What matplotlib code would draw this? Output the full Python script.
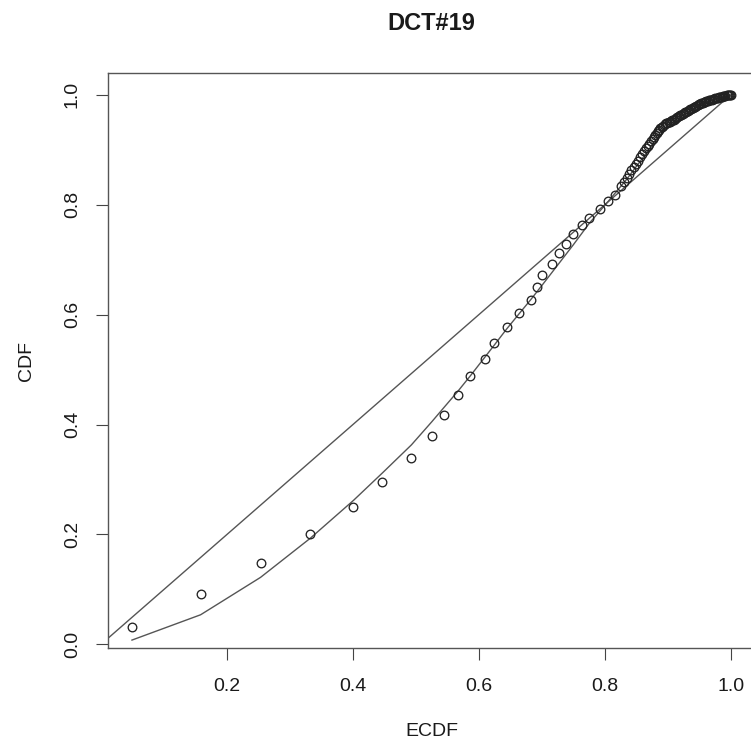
import matplotlib
matplotlib.use("Agg")
import matplotlib.pyplot as plt

# ---- data ----
ecdf_x = [0.0493, 0.1582, 0.2533, 0.3321, 0.4008, 0.4468, 0.4928, 0.5251, 0.5452,
          0.5669, 0.5859, 0.6097, 0.6240, 0.6441, 0.6641, 0.6821, 0.6927, 0.7006,
          0.7165, 0.7276, 0.7376, 0.7498, 0.7630, 0.7751, 0.7921, 0.8052, 0.8159,
          0.8255, 0.8300, 0.8345, 0.838, 0.842, 0.8455, 0.849, 0.8525, 0.856,
          0.859, 0.862, 0.865, 0.868, 0.8705, 0.873, 0.8755, 0.878, 0.880, 0.882,
          0.884, 0.886, 0.888, 0.890, 0.892, 0.8945, 0.897, 0.899, 0.901, 0.903,
          0.905, 0.907, 0.909, 0.911, 0.913, 0.915, 0.917, 0.919, 0.921, 0.923,
          0.925, 0.927, 0.929, 0.931, 0.933, 0.935, 0.937, 0.939, 0.941, 0.943,
          0.945, 0.947, 0.949, 0.951, 0.953, 0.955, 0.957, 0.959, 0.961, 0.963,
          0.965, 0.967, 0.969, 0.971, 0.973, 0.975, 0.977, 0.979, 0.981, 0.983,
          0.985, 0.987, 0.989, 0.991, 0.993, 0.995, 0.997, 0.999, 1.000]
cdf_y = [0.0323, 0.0911, 0.1473, 0.2005, 0.2501, 0.2955, 0.3391, 0.3796, 0.4177,
         0.4541, 0.4879, 0.5194, 0.5484, 0.5768, 0.6022, 0.6270, 0.6494, 0.6718,
         0.6918, 0.7111, 0.7281, 0.7463, 0.7626, 0.7764, 0.7916, 0.8067, 0.8176,
         0.833, 0.841, 0.849, 0.855, 0.862, 0.868, 0.874, 0.880, 0.886,
         0.8915, 0.897, 0.902, 0.907, 0.911, 0.915, 0.919, 0.923, 0.9265, 0.930,
         0.933, 0.936, 0.9385, 0.941, 0.9435, 0.946, 0.948, 0.949, 0.950, 0.951,
         0.9515, 0.953, 0.9545, 0.956, 0.9575, 0.959, 0.9605, 0.962, 0.9635, 0.965,
         0.966, 0.9675, 0.969, 0.970, 0.9715, 0.973, 0.974, 0.9755, 0.977, 0.978,
         0.9795, 0.981, 0.982, 0.983, 0.984, 0.985, 0.986, 0.987, 0.988, 0.989,
         0.9895, 0.990, 0.991, 0.9915, 0.992, 0.993, 0.9935, 0.994, 0.995, 0.9955,
         0.996, 0.997, 0.9975, 0.998, 0.9985, 0.999, 0.9995, 1.000, 1.000]

# lower reference curve
lower_x = [0.0493, 0.1582, 0.2533, 0.3321, 0.4008, 0.4468, 0.4928, 0.5251, 0.5452,
           0.5669, 0.5859, 0.6097, 0.6240, 0.6441, 0.6641, 0.6821, 0.7006, 0.7276,
           0.7498, 0.7751, 0.8052, 0.8344, 0.862, 0.882, 0.903, 0.934, 0.964, 1.000]
lower_y = [0.008, 0.054, 0.122, 0.193, 0.262, 0.312, 0.363, 0.405, 0.432,
           0.461, 0.488, 0.523, 0.544, 0.574, 0.602, 0.627, 0.654, 0.694,
           0.727, 0.766, 0.806, 0.846, 0.888, 0.920, 0.943, 0.963, 0.982, 0.998]

# diagonal reference line
diag_x = [0.0, 1.0]
diag_y = [0.0, 1.0]

x_ticks = [0.2, 0.4, 0.6, 0.8, 1.0]
y_ticks = [0.0, 0.2, 0.4, 0.6, 0.8, 1.0]

title = "DCT#19"
xlabel = "ECDF"
ylabel = "CDF"

# ---- style ----
plt.rcParams['font.family'] = ['Liberation Sans', 'DejaVu Sans']
txt = '#1a1a1a'
W, H = 751, 744
fig = plt.figure(figsize=(W / 100, H / 100), dpi=100)
left, right, top, bottom = 108, 755, 73.3, 648
ax = fig.add_axes([left / W, 1 - bottom / H, (right - left) / W, (bottom - top) / H])

ax.plot(diag_x, diag_y, color='#555555', lw=1.0, zorder=2)
ax.plot(lower_x, lower_y, color='#555555', lw=1.0, zorder=2)
ax.plot(ecdf_x, cdf_y, linestyle='none', marker='o', ms=6.2, mfc='none',
        mec='#222222', mew=0.95, zorder=3)

def rlim(v):
    lo, hi = min(v), max(v)
    r = hi - lo
    return lo - 0.04 * r, hi + 0.04 * r

ax.set_xlim(*rlim(ecdf_x))
ax.set_ylim(*rlim(cdf_y))

ax.set_xticks(x_ticks)
ax.set_xticklabels([f"{t:.1f}" for t in x_ticks])
ax.set_yticks(y_ticks)
ax.set_yticklabels([f"{t:.1f}" for t in y_ticks], rotation=90, va='center')

ax.tick_params(axis='both', direction='out', length=8.6, width=0.8, color='#444444',
               labelsize=14, labelcolor=txt)
ax.tick_params(axis='x', pad=13)
ax.tick_params(axis='y', pad=11)

for s in ax.spines.values():
    s.set_color('#555555')
    s.set_linewidth(1.0)

ax.set_xlabel(xlabel, fontsize=14, color=txt)
ax.xaxis.set_label_coords(0.5, (bottom - 731.7) / (bottom - top))
ax.xaxis.label.set_va('center')
ax.set_ylabel(ylabel, fontsize=14, color=txt)
ax.yaxis.set_label_coords((26 - left) / (right - left), 0.5)
ax.yaxis.label.set_va('center')

fig.text(431.5 / W, 1 - 24 / H, title, ha='center', va='center', fontsize=17,
         fontweight='bold', color=txt)

fig.savefig('out.png', dpi=100, facecolor='white')
